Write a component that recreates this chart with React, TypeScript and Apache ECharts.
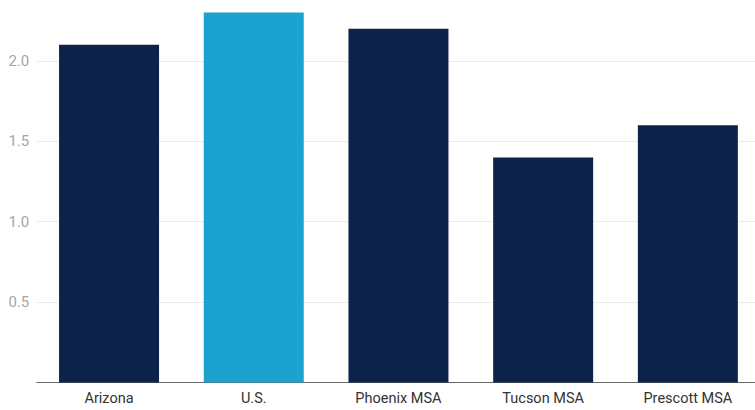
import React, { useEffect, useRef } from "react";
import * as echarts from "echarts";

const categories = ["Arizona", "U.S.", "Phoenix MSA", "Tucson MSA", "Prescott MSA"];
const values = [2.1, 2.3, 2.2, 1.4, 1.6];
const highlight = ["U.S."];

const NAVY = "#0d234a";
const BLUE = "#1ba2cf";

export default function App() {
  const ref = useRef<HTMLDivElement>(null);
  useEffect(() => {
    if (!ref.current) return;
    const chart = echarts.init(ref.current, undefined, { renderer: "svg" });
    chart.setOption({
      animation: false,
      grid: { left: 36.7, right: 1.8, top: 12.6, bottom: 27.4, containLabel: false },
      xAxis: {
        type: "category",
        data: categories,
        axisLine: { lineStyle: { color: "#666", width: 1 } },
        axisTick: { show: false },
        axisLabel: { color: "#333", fontFamily: "Roboto", fontSize: 14.5, margin: 8 },
      },
      yAxis: {
        type: "value",
        min: 0,
        max: 2.3,
        interval: 0.5,
        axisLine: { show: false },
        axisTick: { show: false },
        axisLabel: {
          color: "#a6a6a6",
          fontFamily: "Roboto",
          fontSize: 15,
          margin: 7.4,
          showMinLabel: false,
          showMaxLabel: false,
          formatter: (v: number) => v.toFixed(1),
        },
        splitLine: { show: true, showMinLine: false, showMaxLine: false, lineStyle: { color: "#ebebeb", width: 1 } },
      },
      series: [
        {
          type: "bar",
          barWidth: 100,
          data: values.map((v, i) => ({
            value: v,
            itemStyle: { color: highlight.includes(categories[i]) ? BLUE : NAVY },
          })),
        },
      ],
    });
    return () => chart.dispose();
  }, []);
  return (
    <div style={{ position: "absolute", left: 0, top: 0, width: 755, height: 410, overflow: "hidden" }}>
      <div ref={ref} style={{ width: 762, height: 410 }} />
    </div>
  );
}
